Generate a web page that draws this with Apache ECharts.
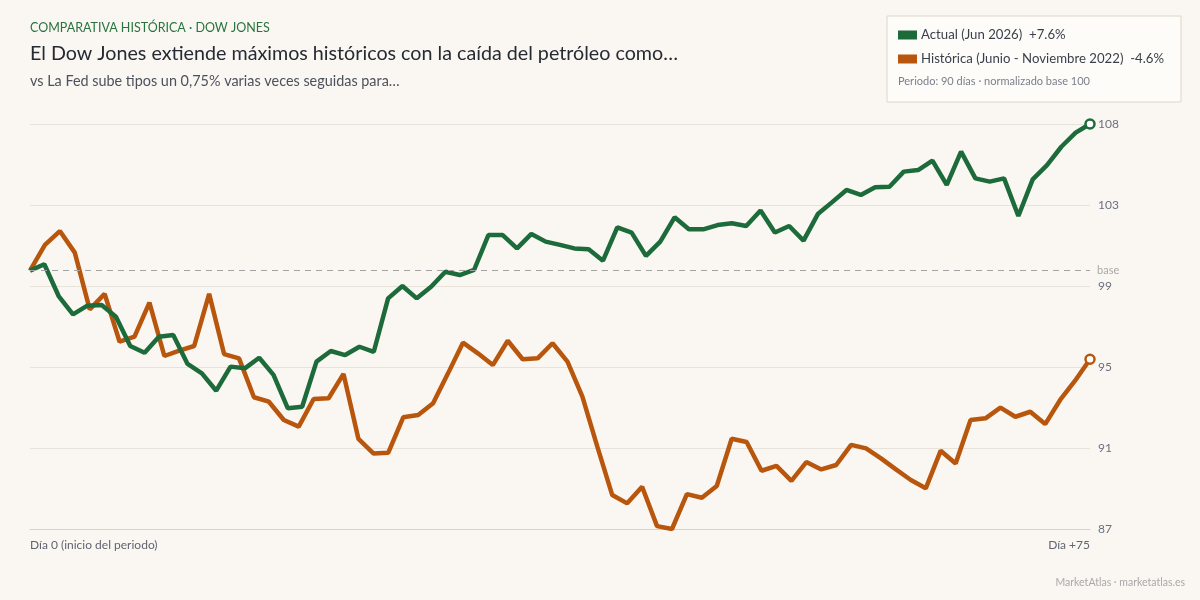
<!DOCTYPE html>
<html><head><meta charset="utf-8">
<script src="https://cdn.jsdelivr.net/npm/echarts@6/dist/echarts.min.js"></script>
<style>html,body{margin:0;padding:0;background:#faf7f2;}#c{width:1200px;height:600px;}</style>
</head><body><div id="c"></div>
<script>
// ---- Data ----
const actualName = 'Actual (Jun 2026)';
const historicName = 'Histórica (Junio - Noviembre 2022)';
const actualPct = '+7.6%';
const historicPct = '-4.6%';
const actualValues = [100,100.33,98.68,97.73,98.18,98.21,97.61,96.09,95.74,96.57,96.66,95.16,94.67,93.77,95.02,94.93,95.48,94.59,92.86,92.94,95.28,95.83,95.62,96.05,95.79,98.56,99.2,98.56,99.16,99.94,99.77,100.03,101.84,101.84,101.15,101.9,101.5,101.33,101.15,101.1,100.51,102.24,101.97,100.76,101.5,102.76,102.14,102.14,102.36,102.45,102.31,103.11,101.97,102.31,101.55,102.93,103.55,104.18,103.92,104.32,104.35,105.13,105.21,105.7,104.44,106.17,104.78,104.61,104.78,102.83,104.73,105.47,106.42,107.15,107.6];
const historicValues = [100,101.33,102.05,100.93,97.99,98.79,96.31,96.57,98.34,95.57,95.85,96.09,98.79,95.67,95.45,93.43,93.2,92.25,91.91,93.34,93.38,94.64,91.27,90.52,90.56,92.39,92.51,93.12,94.67,96.26,95.71,95.1,96.36,95.4,95.45,96.23,95.28,93.46,90.87,88.36,87.93,88.79,86.75,86.6,88.41,88.22,88.83,91.28,91.11,89.62,89.87,89.1,90.07,89.69,89.92,90.96,90.78,90.26,89.69,89.14,88.71,90.66,90.0,92.25,92.34,92.89,92.42,92.68,92.04,93.29,94.29,95.4];
const xTickLabels = ['Día 0 (inicio del periodo)', 'Día +75'];
const actualDays = actualValues.map((_, i) => i);
const historicDays = historicValues.map((_, i) => i);
const baseValue = 100;
const yMin = 86.6, yMax = 107.6, yStep = 4.2;

const GREEN = '#1d6b3b', ORANGE = '#b8560e';
const FONT = 'Lato, "Noto Sans", sans-serif';

const chart = echarts.init(document.getElementById('c'), null, {renderer: 'canvas'});
const lastA = actualValues.length - 1, lastH = historicValues.length - 1;

chart.setOption({
  backgroundColor: '#faf7f2',
  animation: false,
  textStyle: {fontFamily: FONT},
  grid: {left: 30, right: 110, top: 124, height: 405},
  legend: {
    left: 893, top: 23, orient: 'vertical', icon: 'rect', itemWidth: 17, itemHeight: 7, itemGap: 10,
    selectedMode: false,
    textStyle: {fontFamily: FONT, fontSize: 13.2, color: '#3a3f4b', lineHeight: 14},
    formatter: n => n === actualName ? n + '  ' + actualPct : n + '  ' + historicPct,
    data: [{name: actualName, itemStyle: {color: GREEN}}, {name: historicName, itemStyle: {color: ORANGE}}]
  },
  xAxis: [{
    type: 'category', data: actualDays, boundaryGap: false,
    axisLine: {show: true, lineStyle: {color: '#d9d3c9'}}, axisTick: {show: false},
    axisLabel: {
      interval: 0, margin: 10, fontSize: 12, color: '#5f6470', fontFamily: FONT,
      showMinLabel: true, showMaxLabel: true, alignMinLabel: 'left', alignMaxLabel: 'right',
      formatter: (v, i) => i === 0 ? xTickLabels[0] : (i === lastA ? xTickLabels[1] : '')
    },
    splitLine: {show: false}
  }, {
    type: 'category', data: historicDays, boundaryGap: false, show: false
  }],
  yAxis: {
    type: 'value', position: 'right', min: yMin, max: yMax, interval: yStep,
    axisLine: {show: false}, axisTick: {show: false},
    axisLabel: {margin: 8, fontSize: 12, color: '#6b7080', fontFamily: FONT, formatter: v => Math.round(v)},
    splitLine: {lineStyle: {color: '#e7e2da', width: 1}}
  },
  series: [{
    name: actualName, type: 'line', xAxisIndex: 0, data: actualValues,
    showSymbol: true, symbol: 'circle', symbolSize: (v, p) => p.dataIndex === lastA ? 9 : 0,
    lineStyle: {color: GREEN, width: 4.5}, itemStyle: {color: '#ffffff', borderColor: GREEN, borderWidth: 2.5},
    emphasis: {disabled: true}, z: 3,
    markLine: {
      silent: true, symbol: ['none', 'none'], animation: false,
      lineStyle: {color: '#a3a3a3', type: [6, 5], width: 1},
      label: {formatter: 'base', position: 'end', color: '#a8a8a8', fontSize: 11, distance: 7, fontFamily: FONT},
      data: [{yAxis: baseValue}]
    }
  }, {
    name: historicName, type: 'line', xAxisIndex: 1, data: historicValues,
    showSymbol: true, symbol: 'circle', symbolSize: (v, p) => p.dataIndex === lastH ? 9 : 0,
    lineStyle: {color: ORANGE, width: 4.5}, itemStyle: {color: '#ffffff', borderColor: ORANGE, borderWidth: 2.5},
    emphasis: {disabled: true}, z: 2
  }],
  graphic: [
    {type: 'text', left: 30, top: 21, style: {text: 'COMPARATIVA HISTÓRICA · DOW JONES', fill: '#2a7340', font: '12.5px ' + FONT}},
    {type: 'text', left: 30, top: 44, style: {text: 'El Dow Jones extiende máximos históricos con la caída del petróleo como…', fill: '#262a33', font: '19.7px ' + FONT}},
    {type: 'text', left: 30, top: 74, style: {text: 'vs La Fed sube tipos un 0,75% varias veces seguidas para…', fill: '#4c515c', font: '14.4px ' + FONT}},
    {type: 'rect', shape: {x: 887, y: 16, width: 294, height: 86}, style: {fill: '#fdfcf9', stroke: '#ddd6ca', lineWidth: 1}, z: -1},
    {type: 'text', left: 898, top: 76, style: {text: 'Periodo: 90 días · normalizado base 100', fill: '#7a7f8a', font: '11px ' + FONT}},
    {type: 'text', right: 15, top: 577, style: {text: 'MarketAtlas · marketatlas.es', fill: '#a9a9a9', font: '10.5px ' + FONT}}
  ]
});
</script></body></html>
